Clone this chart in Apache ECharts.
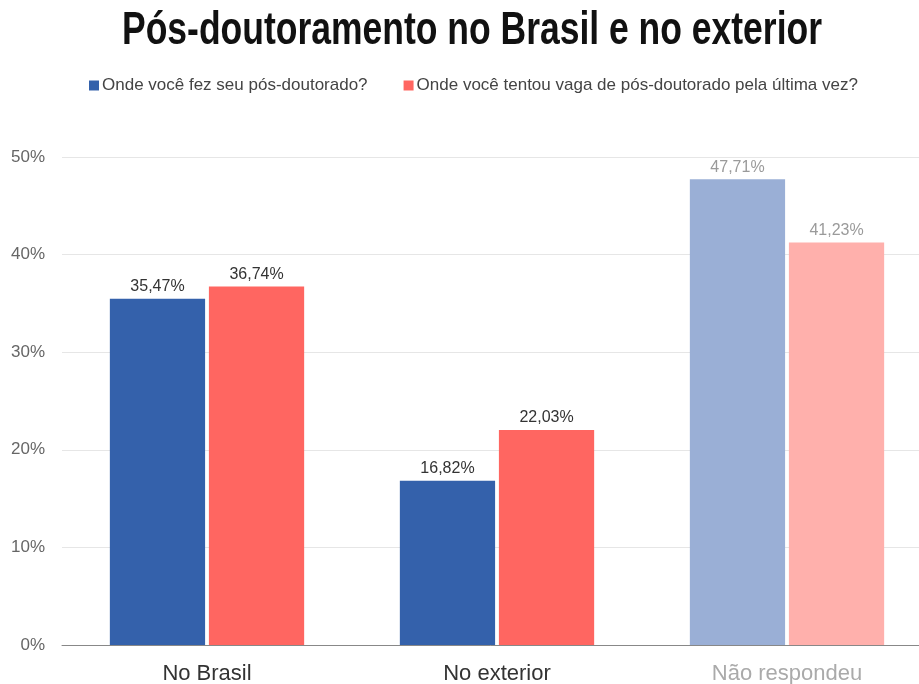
<!DOCTYPE html>
<html>
<head>
<meta charset="utf-8">
<script src="https://cdn.jsdelivr.net/npm/echarts@6/dist/echarts.min.js"></script>
<style>
  html, body { margin: 0; padding: 0; background: #fff; }
  #chart { width: 919px; height: 684px; }
</style>
</head>
<body>
<div id="chart"></div>
<script>
// Categories and values (percent)
const categories = ['No Brasil', 'No exterior', 'Não respondeu'];
const seriesNames = ['Onde você fez seu pós-doutorado?', 'Onde você tentou vaga de pós-doutorado pela última vez?'];
const donePostdoc = [35.47, 16.82, 47.71];
const triedPostdoc = [36.74, 22.03, 41.23];
const yTicks = [0, 10, 20, 30, 40, 50];
const titleText = 'Pós-doutoramento no Brasil e no exterior';

const blue = '#3461AB', red = '#FF6661';
const blueFaded = '#9AAFD6', redFaded = '#FFB0AC';
const fmt = v => v.toFixed(2).replace('.', ',') + '%';
const sans = 'Helvetica, Arial, "Liberation Sans", sans-serif';

// Condensed heading: a bold sans squeezed horizontally to a fixed width
const titleFont = 'bold 46px "Liberation Sans", Arial, sans-serif';
const titleWidth = 700;
const ctx = document.createElement('canvas').getContext('2d');
ctx.font = titleFont;
const titleScale = titleWidth / ctx.measureText(titleText).width;

// The last category ("Não respondeu") is drawn in faded tones
function buildData(values, strong, faded) {
  return values.map((v, i) => {
    const last = i === values.length - 1;
    return {
      value: v,
      itemStyle: { color: last ? faded : strong },
      label: { color: last ? '#9a9a9a' : '#333' }
    };
  });
}

const labelStyle = {
  show: true, position: 'top', distance: 4, fontSize: 16,
  fontFamily: sans, formatter: p => fmt(p.value)
};

const chart = echarts.init(document.getElementById('chart'));
chart.setOption({
  animation: false,
  graphic: [{
    type: 'text',
    x: 472,
    y: 31,
    scaleX: titleScale,
    style: {
      text: titleText,
      font: titleFont,
      fill: '#111',
      align: 'center',
      verticalAlign: 'middle'
    }
  }],
  legend: {
    top: 72,
    left: 84,
    itemWidth: 10,
    itemHeight: 10,
    itemGap: 36,
    icon: 'rect',
    textStyle: { fontFamily: sans, fontSize: 17, color: '#444', padding: [0, 0, 0, -2] },
    data: seriesNames
  },
  grid: { left: 62, top: 157, bottom: 39, right: -13, outerBoundsMode: 'none', containLabel: false },
  xAxis: {
    type: 'category',
    data: categories,
    axisTick: { show: false },
    axisLine: { lineStyle: { color: '#888', width: 1 } },
    axisLabel: {
      fontFamily: sans,
      fontSize: 22,
      margin: 18,
      color: function (val, idx) { return idx === 2 ? '#aaa' : '#333'; }
    }
  },
  yAxis: {
    type: 'value',
    min: yTicks[0],
    max: yTicks[yTicks.length - 1],
    interval: 10,
    axisLine: { show: false },
    axisTick: { show: false },
    splitLine: { lineStyle: { color: '#e6e6e6' } },
    axisLabel: {
      fontFamily: sans,
      fontSize: 17,
      color: '#666',
      margin: 17,
      formatter: v => v + '%'
    }
  },
  series: [
    {
      name: seriesNames[0],
      type: 'bar',
      itemStyle: { color: blue },
      barCategoryGap: '33%',
      barGap: '4%',
      label: labelStyle,
      data: buildData(donePostdoc, blue, blueFaded)
    },
    {
      name: seriesNames[1],
      type: 'bar',
      itemStyle: { color: red },
      barCategoryGap: '33%',
      barGap: '4%',
      label: labelStyle,
      data: buildData(triedPostdoc, red, redFaded)
    }
  ]
});
</script>
</body>
</html>
